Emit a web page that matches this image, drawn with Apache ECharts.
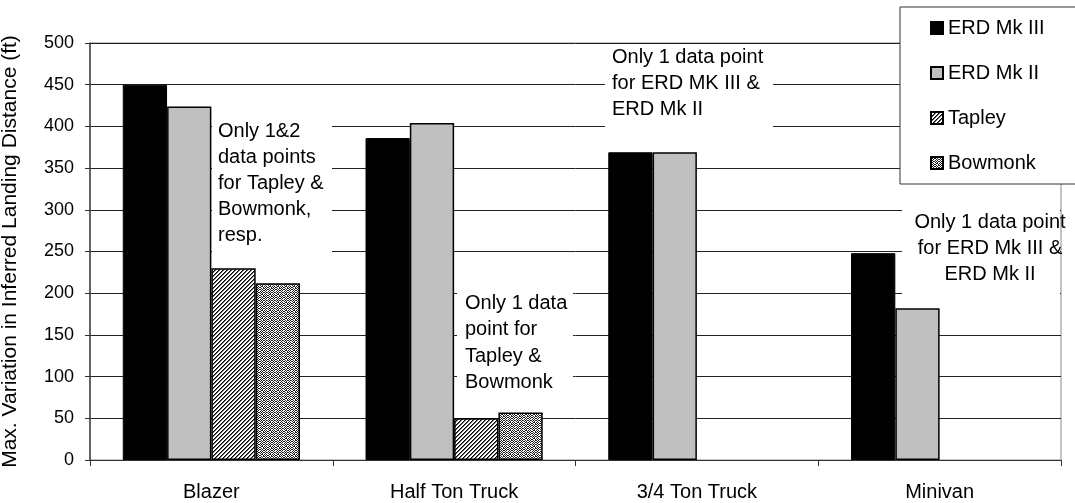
<!DOCTYPE html>
<html>
<head>
<meta charset="utf-8">
<script src="https://cdn.jsdelivr.net/npm/echarts@6/dist/echarts.min.js"></script>
<style>
  html, body { margin: 0; padding: 0; background: #fff; }
  #chart { width: 1075px; height: 503px; }
</style>
</head>
<body>
<div id="chart"></div>
<script>
// Vehicle categories and per-device maximum variation (ft)
const categories = ['Blazer', 'Half Ton Truck', '3/4 Ton Truck', 'Minivan'];
const erdMk3 = [450, 386, 369, 248];
const erdMk2 = [424, 404, 369, 182];
const tapley = [230, 50, null, null];
const bowmonk = [212, 57, null, null];
const seriesNames = ['ERD Mk III', 'ERD Mk II', 'Tapley', 'Bowmonk'];
const yTicks = { min: 0, max: 500, step: 50 };

const FONT = "'Liberation Sans', Arial, sans-serif";

// Fill patterns for the hatched and speckled bars
function makePattern(size, inkAt) {
  const c = document.createElement('canvas');
  c.width = size; c.height = size;
  const ctx = c.getContext('2d');
  ctx.fillStyle = '#fff';
  ctx.fillRect(0, 0, size, size);
  for (let y = 0; y < size; y++) {
    for (let x = 0; x < size; x++) {
      const ink = inkAt(x, y);
      if (ink) { ctx.fillStyle = ink; ctx.fillRect(x, y, 1, 1); }
    }
  }
  return c;
}
// diagonal "////" hatch
const hatch = makePattern(4, (x, y) => {
  const k = (x + y) % 4;
  return k === 0 ? '#000' : (k === 1 ? '#666' : null);
});
// fine speckle
const speckleRows = [
  '10100101',
  '01011010',
  '10100101',
  '01001010',
  '10110101',
  '01001010',
  '10100110',
  '01011001'
];
const speckle = makePattern(8, (x, y) => speckleRows[y][x] === '1' ? '#222' : null);

const chart = echarts.init(document.getElementById('chart'), null, { renderer: 'canvas' });

const barBorder = { borderColor: '#000', borderWidth: 1.5 };

chart.setOption({
  animation: false,
  backgroundColor: '#fff',
  grid: {
    left: 90, right: 14, top: 43, bottom: 43,
    outerBoundsMode: 'none',
    containLabel: false,
    show: true, borderColor: '#888', borderWidth: 1, backgroundColor: 'transparent'
  },
  legend: {
    orient: 'vertical',
    left: 900, top: 7,
    padding: [11, 90, 11, 30],
    itemGap: 25,
    itemWidth: 12, itemHeight: 12,
    icon: 'rect',
    backgroundColor: '#fff',
    borderColor: '#333', borderWidth: 1, borderRadius: 0,
    textStyle: { fontFamily: FONT, fontSize: 20, color: '#000' },
    data: seriesNames
  },
  xAxis: {
    type: 'category',
    data: categories,
    axisLine: { lineStyle: { color: '#333', width: 1 } },
    axisTick: { show: true, length: 6, lineStyle: { color: '#333' } },
    axisLabel: { fontFamily: FONT, fontSize: 20, color: '#000', margin: 22 },
    splitLine: { show: false }
  },
  yAxis: {
    type: 'value',
    min: yTicks.min, max: yTicks.max, interval: yTicks.step,
    name: 'Max. Variation in Inferred Landing Distance (ft)',
    nameLocation: 'middle',
    nameGap: 69,
    nameTextStyle: { fontFamily: FONT, fontSize: 21, color: '#000' },
    axisLine: { show: true, lineStyle: { color: '#444', width: 1.5 } },
    axisTick: { show: true, length: 5, lineStyle: { color: '#333' } },
    axisLabel: { fontFamily: FONT, fontSize: 18, color: '#000', margin: 16 },
    splitLine: { show: true, lineStyle: { color: '#222', width: 1 } }
  },
  series: [
    {
      name: seriesNames[0], type: 'bar', data: erdMk3,
      barGap: '0%', barCategoryGap: '27%',
      itemStyle: { color: '#000', borderColor: '#000', borderWidth: 1 }
    },
    {
      name: seriesNames[1], type: 'bar', data: erdMk2,
      barGap: '0%', barCategoryGap: '27%',
      itemStyle: Object.assign({ color: '#c0c0c0' }, barBorder)
    },
    {
      name: seriesNames[2], type: 'bar', data: tapley,
      barGap: '0%', barCategoryGap: '27%',
      itemStyle: Object.assign({ color: { image: hatch, repeat: 'repeat' } }, barBorder)
    },
    {
      name: seriesNames[3], type: 'bar', data: bowmonk,
      barGap: '0%', barCategoryGap: '27%',
      itemStyle: Object.assign({ color: { image: speckle, repeat: 'repeat' } }, barBorder)
    }
  ],
  graphic: [
    // Note boxes: white panels over the gridlines, then the note text
    { type: 'rect', z: 100, shape: { x: 212, y: 112, width: 120, height: 142 }, style: { fill: '#fff' } },
    { type: 'text', z: 101, x: 218, y: 118,
      style: { text: 'Only 1&2\ndata points\nfor Tapley &\nBowmonk,\nresp.', fill: '#000',
               font: '20px ' + FONT, lineHeight: 26, align: 'left', verticalAlign: 'top' } },

    { type: 'rect', z: 100, shape: { x: 457, y: 284, width: 116, height: 112 }, style: { fill: '#fff' } },
    { type: 'text', z: 101, x: 465, y: 290,
      style: { text: 'Only 1 data\npoint for\nTapley &\nBowmonk', fill: '#000',
               font: '20px ' + FONT, lineHeight: 26.5, align: 'left', verticalAlign: 'top' } },

    { type: 'rect', z: 100, shape: { x: 605, y: 45, width: 168, height: 86 }, style: { fill: '#fff' } },
    { type: 'text', z: 101, x: 612, y: 44,
      style: { text: 'Only 1 data point\nfor ERD MK III &\nERD Mk II', fill: '#000',
               font: '20px ' + FONT, lineHeight: 26, align: 'left', verticalAlign: 'top' } },

    { type: 'rect', z: 100, shape: { x: 902, y: 205, width: 158, height: 95 }, style: { fill: '#fff' } },
    { type: 'text', z: 101, x: 990, y: 209,
      style: { text: 'Only 1 data point\nfor ERD Mk III &\nERD Mk II', fill: '#000',
               font: '20px ' + FONT, lineHeight: 26, align: 'center', verticalAlign: 'top' } }
  ]
});
</script>
</body>
</html>
